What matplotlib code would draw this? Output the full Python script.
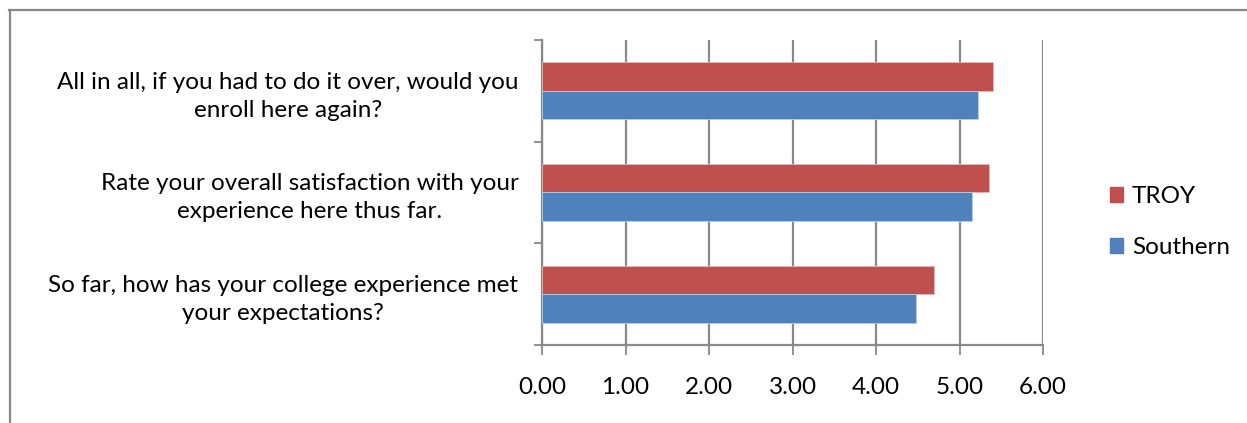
import numpy as np
import matplotlib.pyplot as plt
from matplotlib.patches import Patch
from matplotlib.lines import Line2D

# Survey questions, bottom to top as drawn on the y axis
questions = [
    "So far, how has your college experience met\nyour expectations?",
    "Rate your overall satisfaction with your\nexperience here thus far.",
    "All in all, if you had to do it over, would you\nenroll here again?",
]
troy = [4.69, 5.35, 5.40]
southern = [4.48, 5.15, 5.22]
xticks = [0, 1, 2, 3, 4, 5, 6]

red = "#C0504D"
blue = "#4F81BD"
grid_grey = "#898989"

plt.rcParams['font.family'] = ['Lato', 'DejaVu Sans']
fs = 17.5

W, H = 1247, 423
fig = plt.figure(figsize=(W / 100, H / 100), dpi=100)
ax = fig.add_axes([542 / W, 1 - 345 / H, (1043 - 542) / W, (345 - 40) / H])

y = np.arange(len(questions))
h = 0.28
ax.barh(y + h / 2, troy, height=h, color=red, edgecolor="#E6B8B7", linewidth=0.6, zorder=3)
ax.barh(y - h / 2, southern, height=h, color=blue, edgecolor="#B9CDE5", linewidth=0.6, zorder=3)

ax.set_xlim(0, 6)
ax.set_ylim(-0.5, 2.5)
ax.set_xticks(xticks)
ax.set_xticklabels([f"{v:.2f}" for v in xticks], fontsize=fs)
ax.xaxis.grid(True, color=grid_grey, linewidth=1.6, zorder=0)

# category labels sit between separator ticks
ax.set_yticks(y)
ax.set_yticklabels(questions, fontsize=fs, ha="right", multialignment="center",
                   linespacing=1.4)
ax.tick_params(axis="y", length=0, pad=17)
ax.set_yticks(np.arange(-0.5, 3.0, 1.0), minor=True)
ax.tick_params(axis="y", which="minor", length=6, width=1.3, color=grid_grey)
ax.tick_params(axis="x", length=7, width=1.3, color=grid_grey, pad=16)

for side in ["top", "right"]:
    ax.spines[side].set_visible(False)
for side in ["left", "bottom"]:
    ax.spines[side].set_color(grid_grey)
    ax.spines[side].set_linewidth(1.6)

handles = [Patch(color=red, label="TROY"), Patch(color=blue, label="Southern")]
fig.legend(handles=handles, loc="upper left", bbox_to_anchor=(1088 / W, 1 - 164 / H),
           frameon=False, fontsize=fs, handlelength=0.55, handleheight=0.55,
           handletextpad=0.35, labelspacing=1.25)

# chart-area border
fig.add_artist(Line2D([9.5 / W, 9.5 / W], [1 - 10 / H, 0], transform=fig.transFigure,
                      color=grid_grey, linewidth=1.6))
fig.add_artist(Line2D([9 / W, 1], [1 - 10.5 / H, 1 - 10.5 / H], transform=fig.transFigure,
                      color=grid_grey, linewidth=1.6))

fig.savefig("out.png", dpi=100)
